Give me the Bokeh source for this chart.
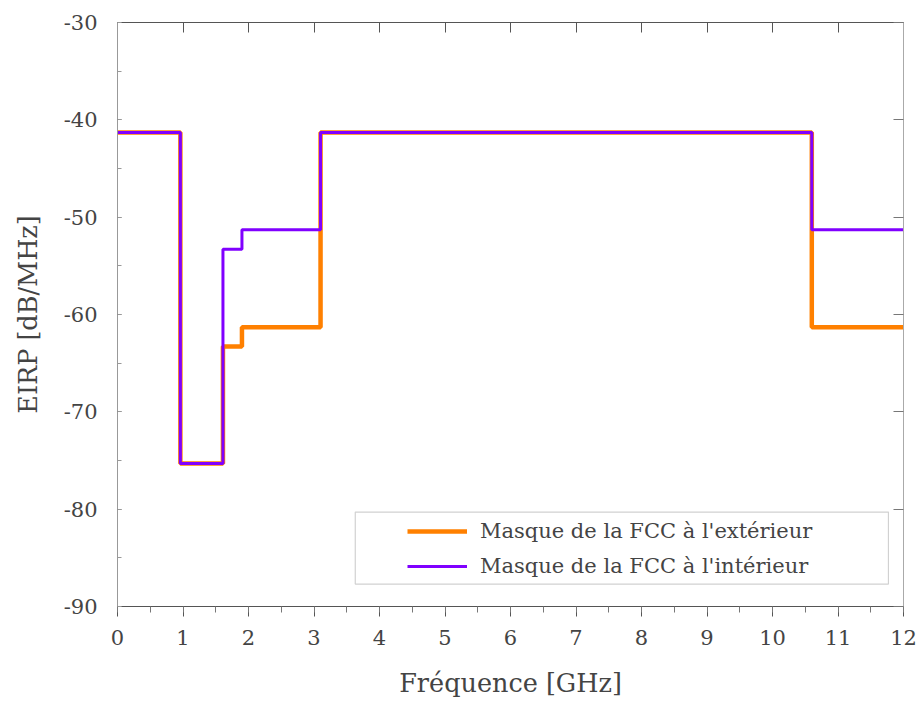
from bokeh.plotting import figure
from bokeh.models import Range1d, LinearAxis, Legend, LegendItem, BoxAnnotation, FixedTicker
from bokeh.embed import file_html
from bokeh.resources import INLINE

# Data: FCC UWB emission masks (step functions)
freq_outdoor = [0.0, 0.96, 0.96, 1.61, 1.61, 1.9, 1.9, 3.1, 3.1, 10.6, 10.6, 12.0]
eirp_outdoor = [-41.3, -41.3, -75.3, -75.3, -63.3, -63.3, -61.3, -61.3, -41.3, -41.3, -61.3, -61.3]
freq_indoor = [0.0, 0.96, 0.96, 1.61, 1.61, 1.9, 1.9, 3.1, 3.1, 10.6, 10.6, 12.0]
eirp_indoor = [-41.3, -41.3, -75.3, -75.3, -53.3, -53.3, -51.3, -51.3, -41.3, -41.3, -51.3, -51.3]
series_labels = ["Masque de la FCC à l'extérieur", "Masque de la FCC à l'intérieur"]
x_ticks = list(range(0, 13))
y_ticks = [-90, -80, -70, -60, -50, -40, -30]
y_tick_labels = ["-90", "-80", "-70", "-60", "-50", "-40", "-30"]

FONT = "DejaVu Serif"
TXT = "#444444"

p = figure(width=918, height=707, output_backend="svg", toolbar_location=None,
           x_range=Range1d(0, 12), y_range=Range1d(-90, -30),
           x_axis_location=None, y_axis_location=None)
p.min_border_left = 117
p.min_border_right = 15
p.min_border_top = 22
p.min_border_bottom = 101
p.outline_line_color = None
p.grid.visible = False
p.background_fill_color = "white"
p.border_fill_color = "white"

# Bottom axis
xb = LinearAxis(ticker=FixedTicker(ticks=x_ticks, minor_ticks=[i * 0.5 for i in range(25)]))
xb.axis_label = "Fréquence [GHz]"
xb.axis_label_text_font = FONT
xb.axis_label_text_font_style = "normal"
xb.axis_label_text_font_size = "25.5px"
xb.axis_label_text_color = TXT
xb.axis_label_standoff = 20
xb.major_label_text_font = FONT
xb.major_label_text_font_size = "21px"
xb.major_label_text_color = TXT
xb.major_label_standoff = 13
xb.major_tick_in = 0
xb.major_tick_out = 10
xb.minor_tick_in = 0
xb.minor_tick_out = 6
xb.axis_line_color = "#555555"
xb.major_tick_line_color = "#555555"
xb.minor_tick_line_color = "#777777"
p.add_layout(xb, "below")

# Left axis
yl = LinearAxis(ticker=FixedTicker(ticks=y_ticks, minor_ticks=list(range(-90, -29, 5))))
yl.axis_label = "EIRP [dB/MHz]"
yl.axis_label_text_font = FONT
yl.axis_label_text_font_style = "normal"
yl.axis_label_text_font_size = "25.5px"
yl.axis_label_text_color = TXT
yl.axis_label_standoff = 18
yl.major_label_overrides = {t: l for t, l in zip(y_ticks, y_tick_labels)}
yl.major_label_text_font = FONT
yl.major_label_text_font_size = "21px"
yl.major_label_text_color = TXT
yl.major_label_standoff = 20
yl.major_tick_in = 4
yl.major_tick_out = 0
yl.minor_tick_in = 4
yl.minor_tick_out = 0
yl.axis_line_color = "#999999"
yl.major_tick_line_color = "#777777"
yl.minor_tick_line_color = "#999999"
p.add_layout(yl, "left")

# Top axis (ticks only)
xt = LinearAxis(ticker=FixedTicker(ticks=x_ticks, minor_ticks=[]))
xt.major_label_text_alpha = 0
xt.major_label_text_font_size = "1px"
xt.major_label_standoff = 0
xt.major_tick_in = 10
xt.major_tick_out = 0
xt.minor_tick_in = 0
xt.minor_tick_out = 0
xt.axis_line_color = "#555555"
xt.major_tick_line_color = "#555555"
p.add_layout(xt, "above")

# Right axis (ticks only)
yr = LinearAxis(ticker=FixedTicker(ticks=y_ticks, minor_ticks=[]))
yr.major_label_text_alpha = 0
yr.major_label_text_font_size = "1px"
yr.major_label_standoff = 0
yr.major_tick_in = 10
yr.major_tick_out = 0
yr.minor_tick_in = 0
yr.minor_tick_out = 0
yr.axis_line_color = "#aaaaaa"
yr.major_tick_line_color = "#777777"
p.add_layout(yr, "right")

r_out = p.line(freq_outdoor, eirp_outdoor, line_color="#ff8000", line_width=4.5)
r_in = p.line(freq_indoor, eirp_indoor, line_color="#8000ff", line_width=3)

# Legend frame
LEG_BOX = dict(left=3.63, right=11.77, bottom=-87.7, top=-80.3)
box = BoxAnnotation(**LEG_BOX, fill_color="white", fill_alpha=1,
                    line_color="#666666", line_width=1.2, level="overlay")
p.add_layout(box)

legend = Legend(items=[LegendItem(label=series_labels[0], renderers=[r_out]),
                       LegendItem(label=series_labels[1], renderers=[r_in])],
                location=(290, 28), padding=0, spacing=11,
                glyph_width=60, glyph_height=22, label_height=22,
                label_standoff=13, border_line_color=None,
                background_fill_alpha=0,
                label_text_font=FONT, label_text_font_size="21px",
                label_text_color=TXT)
p.add_layout(legend, "center")

open("out.html", "w").write(file_html(p, INLINE))
